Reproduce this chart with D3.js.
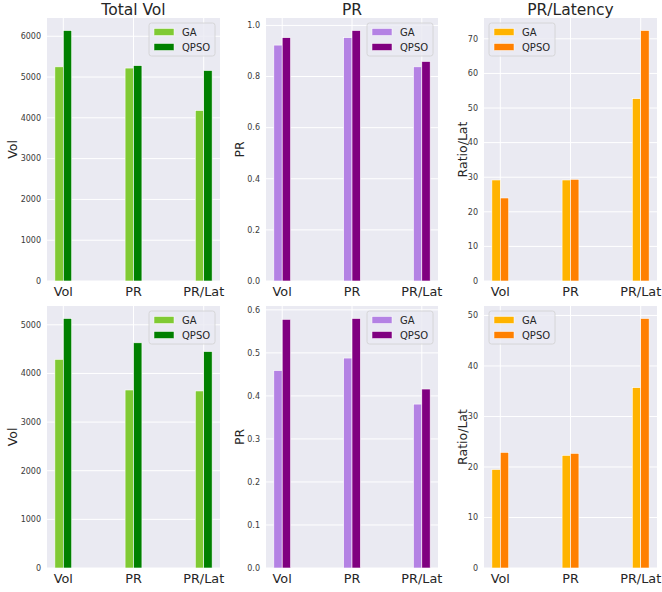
<!DOCTYPE html>
<html>
<head>
<meta charset="utf-8">
<script src="https://cdn.jsdelivr.net/npm/d3@7"></script>
<style>
  html, body { margin: 0; padding: 0; background: #ffffff; }
  svg { display: block; font-family: "DejaVu Sans", sans-serif; }
</style>
</head>
<body>
<svg id="chart" width="662" height="592"></svg>
<script>
// Metric groups on the x axis
const categories = ["Vol", "PR", "PR/Lat"];
const seriesNames = ["GA", "QPSO"];

// Top row
const totalVolGA   = [5250, 5220, 4180];
const totalVolQPSO = [6140, 5280, 5160];
const prGA         = [0.923, 0.952, 0.838];
const prQPSO       = [0.952, 0.980, 0.859];
const ratioGA      = [29.2, 29.2, 52.7];
const ratioQPSO    = [24.0, 29.4, 72.4];

// Bottom row
const totalVolGA2   = [4290, 3660, 3640];
const totalVolQPSO2 = [5130, 4630, 4450];
const prGA2         = [0.459, 0.488, 0.381];
const prQPSO2       = [0.578, 0.580, 0.416];
const ratioGA2      = [19.5, 22.3, 35.7];
const ratioQPSO2    = [22.9, 22.7, 49.4];

// Tick values per panel
const volTicks   = [0, 1000, 2000, 3000, 4000, 5000, 6000];
const prTicks    = [0, 0.2, 0.4, 0.6, 0.8, 1.0];
const ratioTicks = [0, 10, 20, 30, 40, 50, 60, 70];
const volTicks2   = [0, 1000, 2000, 3000, 4000, 5000];
const prTicks2    = [0, 0.1, 0.2, 0.3, 0.4, 0.5, 0.6];
const ratioTicks2 = [0, 10, 20, 30, 40, 50];

const titles = ["Total Vol", "PR", "PR/Latency"];
const yLabels = ["Vol", "PR", "Ratio/Lat"];

const greens  = ["#80ca34", "#008000"];
const purples = ["#b482e4", "#800080"];
const oranges = ["#ffb300", "#ff8000"];

const panels = [
  { row: 0, col: 0, ga: totalVolGA,  qpso: totalVolQPSO,  ticks: volTicks,   fmt: d3.format("d"),   colors: greens,  legend: "right" },
  { row: 0, col: 1, ga: prGA,        qpso: prQPSO,        ticks: prTicks,    fmt: d3.format(".1f"), colors: purples, legend: "right" },
  { row: 0, col: 2, ga: ratioGA,     qpso: ratioQPSO,     ticks: ratioTicks, fmt: d3.format("d"),   colors: oranges, legend: "left" },
  { row: 1, col: 0, ga: totalVolGA2, qpso: totalVolQPSO2, ticks: volTicks2,  fmt: d3.format("d"),   colors: greens,  legend: "right" },
  { row: 1, col: 1, ga: prGA2,       qpso: prQPSO2,       ticks: prTicks2,   fmt: d3.format(".1f"), colors: purples, legend: "right" },
  { row: 1, col: 2, ga: ratioGA2,    qpso: ratioQPSO2,    ticks: ratioTicks2,fmt: d3.format("d"),   colors: oranges, legend: "left" }
];

// Frame geometry
const colX = [[47, 220], [266, 438], [484, 657]];
const rowY = [[18, 281], [306, 568]];
const yLabelX = [17, 244, 467];

const svg = d3.select("#chart");
const barW = 0.12;

panels.forEach(p => {
  const [x0, x1] = colX[p.col];
  const [y0, y1] = rowY[p.row];
  const g = svg.append("g");

  const x = d3.scaleLinear().domain([-0.232, 2.232]).range([x0, x1]);
  const ymax = d3.max(p.ga.concat(p.qpso)) * 1.05;
  const y = d3.scaleLinear().domain([0, ymax]).range([y1, y0]);

  // background
  g.append("rect").attr("x", x0).attr("y", y0).attr("width", x1 - x0).attr("height", y1 - y0)
    .attr("fill", "#eaeaf2");

  // horizontal grid
  g.selectAll(".hg").data(p.ticks).join("line")
    .attr("x1", x0).attr("x2", x1)
    .attr("y1", d => y(d)).attr("y2", d => y(d))
    .attr("stroke", "#ffffff").attr("stroke-width", 1);

  // vertical grid at category positions
  g.selectAll(".vg").data(categories).join("line")
    .attr("x1", (d, i) => x(i)).attr("x2", (d, i) => x(i))
    .attr("y1", y0).attr("y2", y1)
    .attr("stroke", "#ffffff").attr("stroke-width", 1);

  // bars
  const bars = [];
  categories.forEach((c, i) => {
    bars.push({ i, s: 0, v: p.ga[i] });
    bars.push({ i, s: 1, v: p.qpso[i] });
  });
  g.selectAll(".bar").data(bars).join("rect")
    .attr("x", d => x(d.i - barW + d.s * barW))
    .attr("width", d => x(barW) - x(0))
    .attr("y", d => y(d.v))
    .attr("height", d => y(0) - y(d.v))
    .attr("fill", d => p.colors[d.s])
    .attr("stroke", "#ffffff").attr("stroke-width", 0.6);

  // y tick labels
  g.selectAll(".yt").data(p.ticks).join("text")
    .attr("x", x0 - 6).attr("y", d => y(d))
    .attr("dy", "0.35em").attr("text-anchor", "end")
    .attr("font-size", 8).attr("fill", "#3a3a3a")
    .text(d => p.fmt(d));

  // x tick labels
  g.selectAll(".xt").data(categories).join("text")
    .attr("x", (d, i) => x(i)).attr("y", y1 + 15)
    .attr("text-anchor", "middle")
    .attr("font-size", 12.8).attr("fill", "#262626")
    .text(d => d);

  // y axis label
  const ly = (y0 + y1) / 2;
  g.append("text")
    .attr("transform", `translate(${yLabelX[p.col]},${ly}) rotate(-90)`)
    .attr("text-anchor", "middle")
    .attr("font-size", 12.5).attr("fill", "#262626")
    .text(yLabels[p.col]);

  // title (top row only)
  if (p.row === 0) {
    g.append("text")
      .attr("x", (x0 + x1) / 2).attr("y", 15)
      .attr("text-anchor", "middle")
      .attr("font-size", 15.5).attr("fill", "#262626")
      .text(titles[p.col]);
  }

  // legend
  const lw = 66, lh = 33;
  const lx = p.legend === "right" ? x1 - 5 - lw : x0 + 5;
  const lyTop = y0 + 5;
  const lg = g.append("g").attr("transform", `translate(${lx},${lyTop})`);
  lg.append("rect").attr("width", lw).attr("height", lh).attr("rx", 2.5)
    .attr("fill", "#eaeaf2").attr("fill-opacity", 0.8)
    .attr("stroke", "#d0d0d0").attr("stroke-width", 0.8);
  seriesNames.forEach((n, k) => {
    const cy = 9 + k * 15;
    lg.append("rect").attr("x", 5).attr("y", cy - 3.5).attr("width", 20).attr("height", 7)
      .attr("fill", p.colors[k]).attr("stroke", "#ffffff").attr("stroke-width", 0.5);
    lg.append("text").attr("x", 33).attr("y", cy).attr("dy", "0.35em")
      .attr("font-size", 10).attr("fill", "#262626").text(n);
  });
});
</script>
</body>
</html>
